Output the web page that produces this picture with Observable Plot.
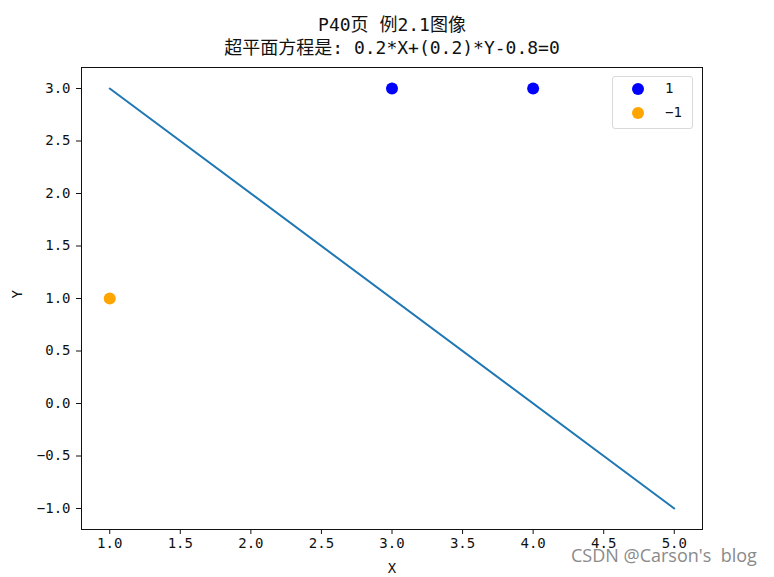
<!DOCTYPE html>
<html><head><meta charset="utf-8">
<script src="https://cdn.jsdelivr.net/npm/d3@7"></script>
<script src="https://cdn.jsdelivr.net/npm/@observablehq/plot@0.6"></script>
<style>
body{margin:0;background:#fff;}
#wrap{position:relative;width:774px;height:577px;font-family:"DejaVu Sans Mono","Noto Sans CJK SC",monospace;}
#legend{position:absolute;left:612px;top:76px;width:81px;height:53px;border:1px solid #d9d9d9;border-radius:3px;background:rgba(255,255,255,0.8);box-sizing:border-box;font-size:14px;color:#111;}
.li{position:absolute;left:0;width:80px;height:20px;}
.li span.d{position:absolute;left:19px;top:4px;width:12px;height:12px;border-radius:50%;}
.li span.t{position:absolute;left:52px;top:1px;}
#wm{position:absolute;left:571px;top:543px;color:#8a8a8a;font-size:18px;font-family:"Open Sans","Noto Sans",sans-serif;white-space:pre;}
</style></head>
<body><div id="wrap"></div>
<script>
const titleLines = ["P40页 例2.1图像", "超平面方程是: 0.2*X+(0.2)*Y-0.8=0"];
const lineX = [1, 5];
const lineY = [3, -1];
const posX = [3, 4];
const posY = [3, 3];
const negX = [1];
const negY = [1];
const xTicks = [1.0, 1.5, 2.0, 2.5, 3.0, 3.5, 4.0, 4.5, 5.0];
const yTicks = [-1.0, -0.5, 0.0, 0.5, 1.0, 1.5, 2.0, 2.5, 3.0];
const legendLabels = ["1", "\u22121"];
const legendColors = ["blue", "orange"];

const lineData = lineX.map((x, i) => ({x, y: lineY[i]}));
const pos = posX.map((x, i) => ({x, y: posY[i]}));
const neg = negX.map((x, i) => ({x, y: negY[i]}));
const fmt = d3.format(".1f");
const FONT = '"DejaVu Sans Mono","Noto Sans CJK SC",monospace';

const chart = Plot.plot({
  width: 774, height: 577,
  marginLeft: 81, marginRight: 72, marginTop: 67, marginBottom: 48,
  style: {fontFamily: FONT, fontSize: "14px", color: "#111", background: "#fff"},
  x: {domain: [0.8, 5.2]},
  y: {domain: [-1.2, 3.2]},
  marks: [
    Plot.frame({stroke: "#111", strokeWidth: 1}),
    Plot.axisX({ticks: xTicks, tickFormat: fmt, tickSize: 5, tickPadding: 4, label: null, fontSize: 14}),
    Plot.axisY({ticks: yTicks, tickFormat: fmt, tickSize: 5, tickPadding: 6, label: null, fontSize: 14}),
    Plot.line(lineData, {x: "x", y: "y", stroke: "#1f77b4", strokeWidth: 2}),
    Plot.dot(pos, {x: "x", y: "y", r: 6, fill: "blue"}),
    Plot.dot(neg, {x: "x", y: "y", r: 6, fill: "orange"}),
    Plot.text([titleLines[0]], {text: d => d, frameAnchor: "top", lineAnchor: "middle", dy: -42, fontSize: 18, fill: "#111"}),
    Plot.text([titleLines[1]], {text: d => d, frameAnchor: "top", lineAnchor: "middle", dy: -19, fontSize: 18, fill: "#111"}),
    Plot.text(["X"], {text: d => d, frameAnchor: "bottom", lineAnchor: "middle", dy: 39, fontSize: 14, fill: "#111"}),
    Plot.text(["Y"], {text: d => d, frameAnchor: "left", dx: -64, rotate: -90, fontSize: 14, fill: "#111"})
  ]
});
const wrap = document.getElementById("wrap");
wrap.appendChild(chart);
const lg = document.createElement("div");
lg.id = "legend";
legendLabels.forEach((l, i) => {
  const r = document.createElement("div");
  r.className = "li"; r.style.top = (2 + i * 24) + "px";
  r.innerHTML = `<span class="d" style="background:${legendColors[i]}"></span><span class="t">${l}</span>`;
  lg.appendChild(r);
});
wrap.appendChild(lg);
const wm = document.createElement("div");
wm.id = "wm"; wm.textContent = "CSDN @Carson's  blog";
wrap.appendChild(wm);
</script></body></html>
